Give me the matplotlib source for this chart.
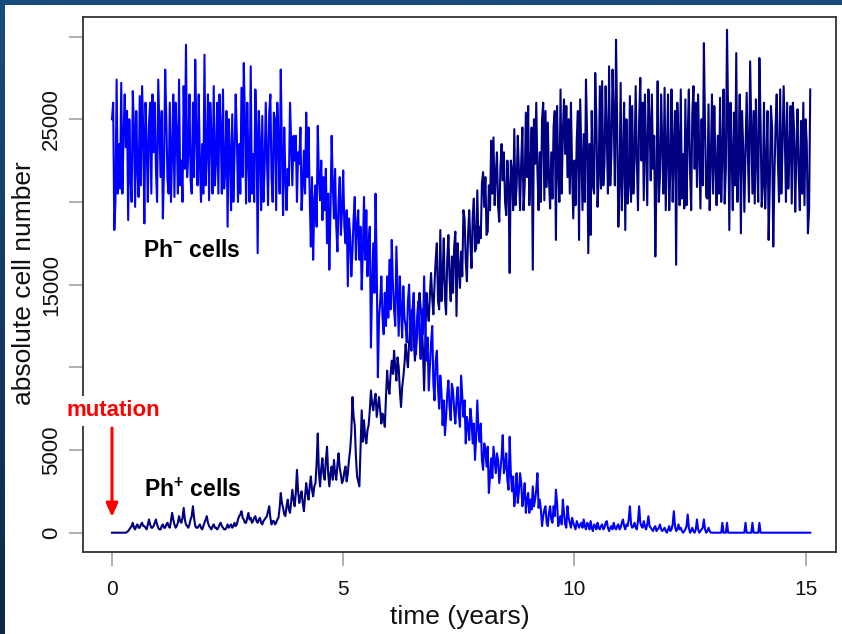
import numpy as np
import matplotlib
matplotlib.use("Agg")
import matplotlib.pyplot as plt
from matplotlib.patches import Rectangle
from matplotlib.colors import LinearSegmentedColormap

plt.rcParams['font.family'] = ['Liberation Sans', 'DejaVu Sans']
plt.rcParams['mathtext.fontset'] = 'custom'
plt.rcParams['mathtext.rm'] = 'Liberation Sans'
plt.rcParams['mathtext.it'] = 'Liberation Sans'
plt.rcParams['mathtext.bf'] = 'Liberation Sans:bold'
plt.rcParams['mathtext.default'] = 'regular'

# ---------------- data (values in thousands of cells) ----------------
# readings every 0.05 years starting at t = 0, plus readings half-way between
t_start = 0.0
t_step = 0.05

ph_neg = [
    25.0, 18.3, 27.4, 23.5, 27.2, 24.0, 23.3, 18.9, 21.5, 26.7,
    19.7, 22.0, 26.4, 27.0, 18.7, 23.5, 24.7, 20.5, 23.0, 22.0,
    27.4, 21.5, 19.0, 28.0, 21.3, 26.0, 23.0, 20.3, 24.0, 27.4,
    22.5, 27.0, 29.5, 23.0, 21.3, 26.0, 28.6, 21.0, 22.5, 23.5,
    28.9, 23.0, 20.1, 24.0, 27.0, 22.5, 20.5, 24.5, 26.8, 22.0,
    18.5, 23.0, 25.3, 22.9, 24.0, 23.5, 26.9, 28.4, 19.9, 22.5,
    28.2, 22.9, 26.8, 16.9, 23.5, 25.2, 22.0, 23.0, 25.4, 21.5,
    25.4, 19.5, 23.7,
    28.0, 19.2, 21.5, 22.0, 26.0, 21.0, 22.5, 20.0, 22.3, 19.5,
    23.1, 25.4, 24.5, 17.3, 16.5, 21.0, 24.6, 20.1, 18.9, 19.5,
    17.5, 15.9, 24.0, 19.0, 18.5, 20.0, 18.0, 21.9, 17.5, 14.9,
    18.0, 17.0, 20.3, 18.5, 16.5, 14.7, 20.3, 19.5, 17.5, 11.2,
    17.5, 20.5, 9.4, 14.0, 13.0, 14.5, 15.5, 16.5, 17.7, 13.5,
    17.3, 11.9, 13.5, 14.9, 12.5, 14.0, 12.5, 13.5, 11.8, 13.1,
    12.0, 13.5, 15.5, 10.4, 8.6, 11.5, 9.0, 10.4, 8.8, 9.5,
    6.5, 5.9, 8.4, 7.6, 9.0, 7.4, 8.0, 7.2, 9.5, 7.0,
    5.4, 6.5, 7.5, 5.4, 4.4, 8.0, 5.5, 4.4, 5.4, 4.0,
    2.4, 4.5, 5.2, 3.6, 4.4, 3.8, 5.9, 4.0, 3.2, 5.8,
    2.5, 1.6, 3.6, 2.5, 3.0, 2.2, 1.2, 2.4, 2.0, 2.8,
    2.0, 3.6, 2.0, 0.4, 1.4, 0.6, 1.2, 0.8, 1.6, 2.6,
    0.4, 1.0, 2.0, 0.5, 1.6, 0.6, 0.9, 0.4, 0.7, 0.3,
    0.6, 0.8, 0.2, 0.5, 0.7, 0.1, 0.4, 0.6, 0.2, 0.5,
    0.3, 0.7, 0.1, 0.4, 0.6, 0.2, 0.5, 0.3, 0.8, 0.2,
    0.4, 1.6, 0.3, 0.6, 0.2, 1.6, 0.4, 0.7, 0.2, 1.0,
    0.3, 0.1, 0.4, 0.2, 0.5, 0.1, 0.3, 0.0, 0.4, 0.2,
    1.3, 0.1, 0.5, 0.3, 0.0, 0.2, 1.1, 0.0, 0.3, 0.0,
    0.8, 0.0, 0.2, 0.8, 0.0, 0.3, 0.0, 0.0, 0.0, 0.0,
    0.0, 0.6, 0.0, 0.6, 0.0, 0.0, 0.0, 0.0, 0.0, 0.0,
    0.0, 0.6, 0.0, 0.0, 0.6, 0.0, 0.0, 0.6, 0.0, 0.0,
    0.0, 0.0, 0.0, 0.0, 0.0, 0.0, 0.0, 0.0, 0.0, 0.0,
    0.0, 0.0, 0.0, 0.0, 0.0, 0.0, 0.0, 0.0, 0.0, 0.0,
]

ph_neg_mid = [
    26.0, 20.0, 20.5, 20.8, 20.5, 26.5, 25.5, 25.0, 20.0, 24.5,
    25.5, 20.3, 21.0, 24.5, 26.0, 20.0, 26.0, 26.5, 26.0, 20.0,
    24.5, 25.5, 22.0, 25.0, 20.5, 20.0, 26.5, 26.0, 20.5, 21.0,
    20.0, 22.0, 21.5, 26.5, 20.5, 21.5, 24.0, 26.5, 20.0, 20.5,
    21.0, 26.5, 26.0, 20.5, 21.0, 26.0, 26.5, 20.5, 20.8, 25.5,
    25.0, 19.5, 20.0, 26.5, 20.0, 20.5, 21.5, 25.0, 26.0, 20.0,
    20.5, 20.0, 24.5, 25.5, 19.5, 20.0, 26.0, 19.8, 26.5, 20.0,
    25.0, 26.0, 20.5,
    23.0, 24.5, 19.5, 21.0, 23.5, 24.0, 24.0, 23.0, 24.5, 21.0,
    20.5, 21.5, 20.5, 21.5, 20.0, 18.5, 21.5, 22.5, 21.5, 22.0,
    20.5, 19.5, 21.0, 22.0, 17.0, 21.5, 19.5, 18.5, 19.5, 19.0,
    15.5, 19.0, 16.5, 19.5, 18.5, 17.0, 16.5, 15.5, 18.5, 15.0,
    14.5, 16.0, 13.0, 15.5, 12.0, 12.5, 13.0, 13.5, 15.0, 12.5,
    14.5, 15.5, 11.8, 13.0, 11.5, 15.0, 11.0, 14.5, 10.8, 14.0,
    10.5, 12.0, 12.5, 11.8, 10.0, 12.5, 8.0, 11.0, 7.5, 8.5,
    8.0, 7.0, 9.2, 6.8, 8.6, 6.6, 8.8, 6.4, 8.2, 8.0,
    7.0, 5.6, 6.8, 6.6, 5.8, 6.2, 6.6, 3.8, 5.0, 5.2,
    3.4, 3.3, 4.4, 4.8, 3.0, 4.6, 3.6, 4.8, 2.6, 3.6,
    3.4, 2.4, 1.8, 3.6, 1.6, 3.0, 2.0, 1.2, 1.4, 1.6,
    2.6, 1.5, 1.4, 1.0, 1.6, 0.4, 1.6, 0.6, 1.0, 1.8,
    0.8, 0.5, 1.2, 0.3, 0.9, 0.3, 0.6, 0.2, 0.5, 0.5,
    0.3, 0.4, 0.6, 0.2, 0.3, 0.5, 0.2, 0.3, 0.4, 0.2,
    0.6, 0.3, 0.3, 0.2, 0.3, 0.4, 0.2, 0.6, 0.4, 0.5,
    0.8, 0.5, 0.4, 0.3, 0.7, 0.6, 0.3, 0.4, 0.5, 0.4,
    0.2, 0.3, 0.1, 0.3, 0.2, 0.2, 0.1, 0.2, 0.1, 0.5,
    0.4, 0.2, 0.2, 0.1, 0.1, 0.4, 0.3, 0.1, 0.1, 0.2,
    0.2, 0.1, 0.3, 0.2, 0.1, 0.1, 0.0, 0.0, 0.0, 0.0,
    0.0, 0.0, 0.0, 0.0, 0.0, 0.0, 0.0, 0.0, 0.0, 0.0,
    0.0, 0.0, 0.0, 0.0, 0.0, 0.0, 0.0, 0.0, 0.0, 0.0,
    0.0, 0.0, 0.0, 0.0, 0.0, 0.0, 0.0, 0.0, 0.0, 0.0,
    0.0, 0.0, 0.0, 0.0, 0.0, 0.0, 0.0, 0.0, 0.0, 0.0,
    0.0, 0.0, 0.0, 0.0,
]

ph_pos = [
    0.0, 0.0, 0.0, 0.0, 0.0, 0.0, 0.0, 0.1, 0.3, 0.6,
    0.2, 0.5, 0.3, 0.6, 0.4, 0.2, 0.8, 0.3, 0.4, 0.8,
    0.3, 0.2, 0.5, 0.3, 0.6, 0.3, 1.2, 0.5, 0.4, 1.0,
    0.6, 1.5, 0.5, 0.3, 0.8, 1.6, 0.4, 0.3, 0.5, 0.2,
    0.6, 1.0, 0.4, 0.2, 0.5, 0.3, 0.3, 0.6, 0.3, 0.2,
    0.5, 0.4, 0.3, 0.6, 0.5, 1.0, 1.3, 0.8, 0.6, 1.2,
    0.9, 0.7, 1.0, 0.6, 0.9, 0.5, 0.8, 1.0, 1.6, 0.5,
    0.7, 0.6, 0.9, 2.4, 1.5, 1.0, 2.0, 1.2, 2.6, 1.6,
    3.8, 1.8, 2.5, 1.3, 3.0, 2.0, 3.4, 2.2, 3.0, 6.0,
    2.8, 4.5, 3.2, 5.2, 2.8, 4.0, 4.4, 3.2, 4.8, 3.5,
    3.2, 4.0, 3.6, 5.0, 8.2, 6.5, 3.4, 2.8, 7.4, 6.8,
    5.4, 6.5, 8.6, 7.4, 8.4, 7.6, 7.4, 7.2, 6.4, 9.8,
    8.4, 10.4, 11.0, 9.2, 10.0, 7.6, 9.4, 11.4, 10.0, 12.5,
    13.5, 10.4, 12.0, 14.5, 12.8, 8.6, 14.5, 12.8, 15.7, 13.2,
    16.5, 14.0, 18.3, 15.5, 14.2, 16.5, 15.4, 16.7, 17.3, 13.1,
    16.0, 17.0, 19.5, 16.4, 18.0, 17.5, 19.1, 17.0, 20.7, 18.5,
    21.1, 19.7, 18.0, 21.0, 23.7, 23.9, 21.7, 19.7, 22.1, 21.3,
    20.0, 22.5, 15.7, 21.9, 24.4, 20.9, 21.9, 22.5, 19.5, 25.4,
    25.8, 22.0, 15.9, 22.3, 21.9, 23.0, 25.0, 20.1, 20.9, 21.3,
    23.0, 24.6, 17.7, 22.0, 26.8, 24.2, 22.9, 21.5, 20.5, 21.9,
    22.5, 23.7, 17.7, 22.9, 24.1, 27.4, 16.9, 18.0, 21.0, 27.8,
    19.7, 27.0, 27.3, 22.3, 24.0, 28.2, 22.9, 25.0, 29.8, 18.5,
    27.2, 22.5, 18.3, 19.9, 26.4, 25.8, 22.5, 22.5, 25.0, 22.5,
    20.1, 23.0, 26.8, 21.3, 22.0, 16.7, 27.3, 21.5, 23.3, 26.9,
    23.0, 19.5, 26.8, 23.5, 16.2, 23.9, 26.8, 22.9, 26.2, 24.0,
    21.9, 25.4, 22.0, 20.9, 23.1, 25.0, 29.6, 20.3, 25.9, 22.5,
    20.5, 22.3, 24.0, 26.3, 23.0, 19.9, 30.4, 18.3, 22.9, 25.4,
    29.0, 22.5, 18.1, 23.3, 22.9, 23.0, 28.5, 20.5, 19.9, 22.5,
    28.7, 19.7, 26.0, 22.0, 17.7, 25.8, 17.3, 24.6, 22.5, 26.8,
    23.3, 24.0, 26.0, 22.9, 19.9, 24.4, 23.0, 21.7, 24.9, 26.0,
    25.0, 18.1, 26.8,
]

ph_pos_mid = [
    0.0, 0.0, 0.0, 0.0, 0.0, 0.0, 0.05, 0.2, 0.4, 0.3,
    0.4, 0.3, 0.5, 0.4, 0.3, 0.5, 0.5, 0.3, 0.6, 0.5,
    0.2, 0.4, 0.3, 0.5, 0.4, 0.7, 0.8, 0.3, 0.6, 0.7,
    0.9, 0.8, 0.4, 0.5, 1.0, 0.9, 0.3, 0.4, 0.3, 0.4,
    0.8, 0.6, 0.3, 0.4, 0.3, 0.2, 0.5, 0.4, 0.2, 0.3,
    0.3, 0.5, 0.4, 0.4, 0.8, 1.1, 0.9, 0.6, 0.9, 0.8,
    0.6, 0.9, 0.7, 0.8, 0.6, 0.7, 0.9, 1.3, 0.9, 0.7,
    0.5, 0.8, 1.5, 1.8, 1.1, 1.6, 1.4, 1.9, 2.0, 2.4,
    2.5, 2.2, 1.8, 2.2, 2.4, 2.8, 2.6, 2.8, 4.2, 3.6,
    3.9, 3.5, 4.4, 3.6, 3.6, 3.2, 3.6, 4.1, 3.9, 3.0,
    3.7, 3.1, 4.4, 6.0, 7.0, 4.6, 3.1, 5.0, 5.5, 5.8,
    6.2, 7.4, 7.8, 8.0, 7.0, 8.2, 6.6, 7.0, 8.2, 8.8,
    9.6, 9.6, 10.0, 10.6, 8.6, 8.8, 10.2, 10.6, 11.5, 12.8,
    11.8, 11.2, 13.2, 13.6, 11.0, 11.6, 13.4, 14.4, 14.2, 15.0,
    17.5, 13.5, 14.0, 17.8, 13.2, 18.0, 14.0, 14.5, 18.2, 17.5,
    14.8, 15.5, 19.0, 15.2, 19.5, 16.0, 20.2, 17.2, 17.5, 17.8,
    21.8, 21.5, 18.2, 19.5, 20.5, 19.8, 23.0, 18.8, 23.5, 23.0,
    19.2, 21.0, 22.5, 19.5, 19.8, 24.0, 19.5, 24.5, 21.0, 21.5,
    19.8, 24.5, 25.0, 26.0, 19.5, 20.0, 26.0, 25.5, 24.8, 19.6,
    20.2, 25.5, 25.8, 20.0, 20.5, 26.2, 25.8, 25.0, 26.0, 19.0,
    19.8, 25.5, 26.2, 19.5, 20.0, 24.0, 23.5, 25.5, 20.5, 25.0,
    21.5, 20.8, 21.0, 27.0, 20.5, 21.0, 28.0, 21.0, 24.5, 21.0,
    19.5, 26.0, 25.0, 21.0, 20.0, 20.5, 27.0, 19.5, 27.5, 26.0,
    26.5, 19.8, 25.0, 26.5, 24.0, 21.5, 20.0, 26.5, 20.5, 19.5,
    26.5, 22.0, 20.0, 25.5, 26.0, 19.8, 20.2, 19.6, 19.8, 26.8,
    19.5, 27.0, 26.0, 26.5, 19.6, 21.0, 24.5, 20.2, 19.5, 26.5,
    25.8, 19.8, 20.5, 20.0, 26.8, 22.0, 25.0, 26.0, 19.5, 21.0,
    20.0, 26.5, 25.5, 19.4, 26.6, 20.0, 24.5, 25.5, 26.2, 20.0,
    25.0, 21.0, 19.6, 25.5, 21.0, 24.5, 21.5, 26.5, 20.0, 20.5,
    27.0, 20.0, 20.8, 25.8, 26.0, 19.4, 25.6, 19.5, 20.5, 19.8,
    23.5, 19.5,
]

x_ticks = [0, 5, 10, 15]
y_ticks = [0, 5000, 10000, 15000, 20000, 25000, 30000]
y_tick_labels = ['0', '5000', '', '15000', '', '25000', '']


def merge(main, mid):
    mid = list(mid)[:len(main) - 1]
    vals = np.empty(len(main) + len(mid))
    vals[0::2] = main
    vals[1::2] = mid
    times = t_start + (t_step / 2) * np.arange(len(vals))
    return times, vals * 1000


t_neg, v_neg = merge(ph_neg, ph_neg_mid)
t_pos, v_pos = merge(ph_pos, ph_pos_mid)

# ---------------- figure ----------------
W, H = 842, 634
fig = plt.figure(figsize=(W / 100, H / 100), dpi=100)
fig.patch.set_facecolor('white')

# slide frame (dark blue border along top and left)
bg = fig.add_axes([0, 0, 1, 1], zorder=-10)
bg.set_axis_off()
grad = np.linspace(0, 1, 256).reshape(-1, 1)
cm = LinearSegmentedColormap.from_list('frame', ['#0d2848', '#1a4d7c'])
bg.imshow(grad, cmap=cm, aspect='auto', extent=[0, 1, 0, 1], origin='lower')
bg.add_patch(Rectangle((5 / W, 0), 1 - 5 / W, 1 - 5 / H, facecolor='white',
                       edgecolor='none', transform=bg.transAxes))
bg.set_xlim(0, 1)
bg.set_ylim(0, 1)

ax = fig.add_axes([83 / W, (H - 552) / H, (836 - 83) / W, (552 - 17) / H])
ax.set_facecolor('white')

ax.plot(t_pos, v_pos, color='#000080', lw=1.5, zorder=3)
ax.plot(t_neg, v_neg, color='#0000ff', lw=1.5, zorder=4)

ax.set_xlim(-0.627, 15.657)
ax.set_ylim(-1167, 31180)

ax.set_xticks(x_ticks)
ax.set_xticklabels([str(v) for v in x_ticks])
ax.set_yticks(y_ticks)
ax.set_yticklabels(y_tick_labels, rotation=90, va='center')

for s in ax.spines.values():
    s.set_color('#333333')
    s.set_linewidth(1.3)

ax.tick_params(axis='both', direction='out', length=10, width=1.1,
               color='#9a9a9a', labelcolor='#111111')
ax.tick_params(axis='x', pad=10, labelsize=15)
ax.tick_params(axis='y', pad=5, labelsize=16)

fig.text(459.5 / W, 1 - 617 / H, 'time (years)', fontsize=19,
         color='#111111', ha='center', va='center')
fig.text(24 / W, 1 - 283 / H, 'absolute cell number', fontsize=19,
         color='#111111', ha='center', va='center', rotation=90)

# annotations
ax.text(1.73, 17080, 'Ph$^{\\mathbf{-}}$ cells', fontsize=16.5, color='black',
        fontweight='bold', ha='center', va='center', zorder=6)
ax.text(1.75, 2580, 'Ph$^{\\mathbf{+}}$ cells', fontsize=16.5, color='black',
        fontweight='bold', ha='center', va='center', zorder=6)
ax.text(0.02, 7360, 'mutation', fontsize=16, color='#ff0000',
        fontweight='bold', ha='center', va='center', zorder=6, clip_on=False,
        bbox=dict(facecolor='white', edgecolor='none', pad=3))
ax.annotate('', xy=(0.0, 950), xytext=(0.0, 6330),
            arrowprops=dict(arrowstyle='-|>,head_length=0.8,head_width=0.35',
                            color='#ff0000', lw=2.2, shrinkA=0, shrinkB=0),
            zorder=6, annotation_clip=False)

fig.savefig('out.png', dpi=100, facecolor=fig.get_facecolor())
